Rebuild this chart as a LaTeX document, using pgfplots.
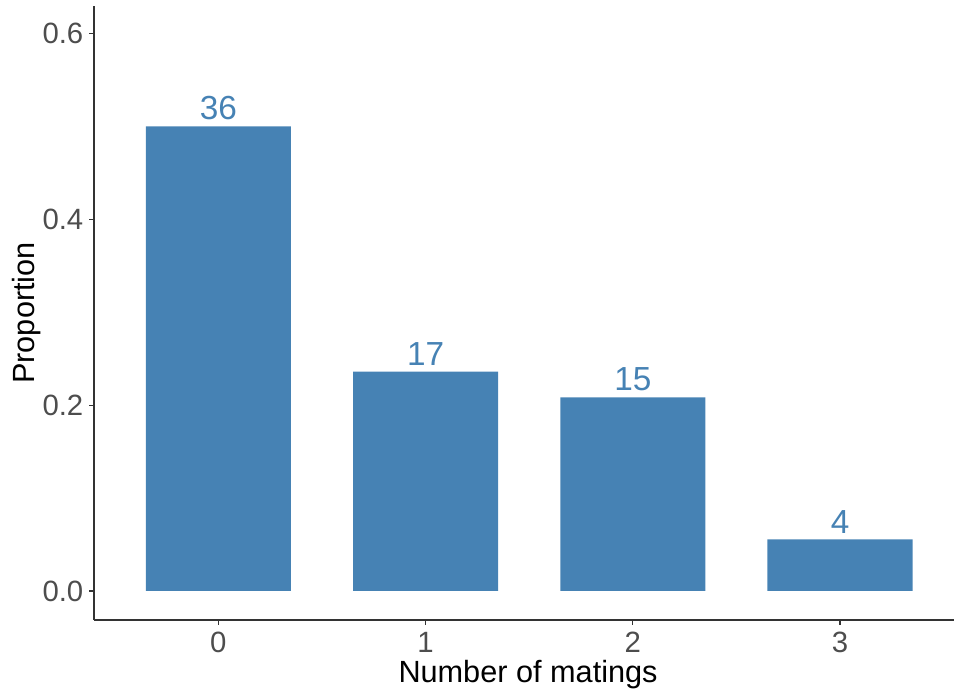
\documentclass[border=0pt]{standalone}
\usepackage{pgfplots}
\pgfplotsset{compat=1.18}
\usepackage{fontspec}
\setmainfont{Liberation Sans}
\definecolor{steel}{HTML}{4682B4}
\definecolor{tickgray}{HTML}{4D4D4D}
\definecolor{axgray}{HTML}{333333}
\begin{document}
\begin{tikzpicture}
\path[use as bounding box] (-70.5pt,-59.25pt) rectangle (645pt,465pt);
\begin{axis}[
  at={(0,0)}, anchor=south west,
  scale only axis,
  width=645pt, height=460.5pt,
  xmin=-0.6, xmax=3.55,
  ymin=-0.0312, ymax=0.6294,
  axis x line*=bottom, axis y line*=left,
  axis line style={axgray, line width=0.8pt, -},
  xtick={0,1,2,3},
  ytick={0,0.2,0.4,0.6},
  yticklabel style={/pgf/number format/fixed, /pgf/number format/fixed zerofill, /pgf/number format/precision=1},
  /pgf/number format/assume math mode=true,
  tick style={axgray, line width=0.8pt},
  tick align=outside,
  major tick length=3.5pt,
  ticklabel style={font=\fontsize{22}{26}\selectfont, text=tickgray},
  xticklabel style={yshift=-2pt},
  yticklabel style={xshift=-1pt},
  xlabel={Number of matings},
  ylabel={Proportion},
  label style={font=\fontsize{23}{27}\selectfont, text=black},
  xlabel style={at={(axis description cs:0.5047,-0.1026)}, anchor=base},
  ylabel style={at={(axis description cs:-0.069,0.5)}, anchor=base, rotate=0},
  clip=false,
]
\addplot[ybar, bar width=0.7, bar shift=0pt, fill=steel, draw=none,
  nodes near coords={\pgfmathprintnumber{\pgfplotspointmeta}},
  point meta=explicit symbolic,
  every node near coord/.append style={font=\fontsize{25}{29}\selectfont, text=steel, anchor=south, inner sep=1pt, yshift=3.5pt}]
  table[meta=n] {
x y n
0 0.5 36
1 0.23611 17
2 0.20833 15
3 0.05556 4
};
\end{axis}
\end{tikzpicture}
\end{document}
